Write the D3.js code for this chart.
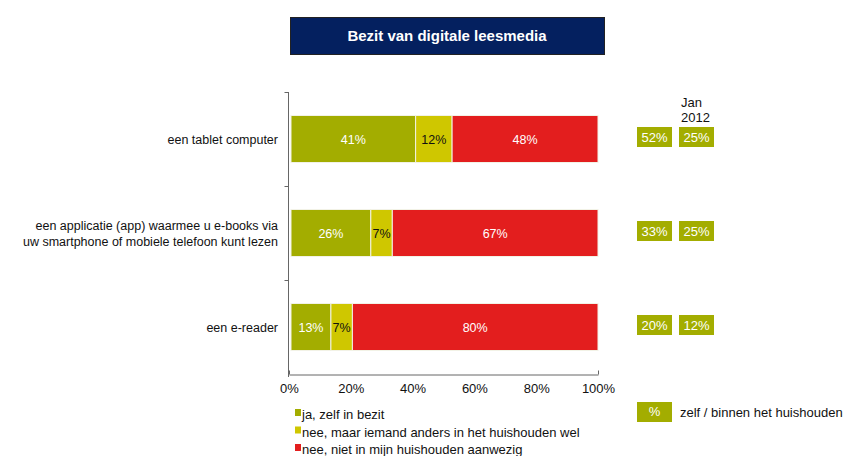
<!DOCTYPE html>
<html><head><meta charset="utf-8">
<script src="https://cdn.jsdelivr.net/npm/d3@7"></script>
<style>body{margin:0;background:#fff}svg{display:block;font-family:"Liberation Sans",Arial,sans-serif}</style>
</head><body><svg id="c" width="845" height="456"></svg>
<script>
const title = "Bezit van digitale leesmedia";
const categories = ["een tablet computer", "een applicatie (app) waarmee  u e-books via\nuw smartphone of mobiele telefoon kunt lezen", "een e-reader"];
const seriesNames = ["ja, zelf in bezit", "nee, maar iemand anders in het huishouden wel", "nee, niet in mijn huishouden aanwezig"];
const jaZelf = [41, 26, 13];
const neeAnders = [12, 7, 7];
const neeNiet = [48, 67, 80];
const sideNow = [52, 33, 20];
const sideJan2012 = [25, 25, 12];
const xTicks = [0, 20, 40, 60, 80, 100];
const colors = ["#a3ad00", "#cfc700", "#e31e1e"];
const textColors = ["#fff", "#111", "#fff"];

const svg = d3.select("#c");
const W = 845, H = 456;
const m = {left: 291, right: 598, top: 92, bottom: 374};

// title box
svg.append("rect").attr("x", 290.5).attr("y", 17.5).attr("width", 314).attr("height", 37)
  .attr("fill", "#04205f").attr("stroke", "#222").attr("stroke-width", 1);
svg.append("text").attr("x", 447).attr("y", 41).attr("text-anchor", "middle")
  .attr("fill", "#fff").attr("font-weight", "bold").attr("font-size", 15).text(title);

const rows = categories.map((c, i) => ({cat: c, s0: jaZelf[i], s1: neeAnders[i], s2: neeNiet[i]}));
const stack = d3.stack().keys(["s0", "s1", "s2"]).offset(d3.stackOffsetExpand);
const layers = stack(rows);

const x = d3.scaleLinear().domain([0, 1]).range([m.left, m.right]);
const y = d3.scaleBand().domain(categories).range([m.top, m.bottom]).paddingInner(0.5).paddingOuter(0.25);

// bars
layers.forEach((layer, k) => {
  const g = svg.append("g");
  g.selectAll("rect").data(layer).join("rect")
    .attr("x", d => x(d[0])).attr("y", d => y(d.data.cat))
    .attr("width", d => x(d[1]) - x(d[0])).attr("height", y.bandwidth())
    .attr("fill", colors[k]).attr("stroke", "#f2f2e6").attr("stroke-width", 1);
  g.selectAll("text").data(layer).join("text")
    .attr("x", d => (x(d[0]) + x(d[1])) / 2).attr("y", d => y(d.data.cat) + y.bandwidth() / 2 + 4.5)
    .attr("text-anchor", "middle").attr("font-size", 12.5).attr("fill", textColors[k])
    .text(d => d.data[layer.key] + "%");
});

// y axis
const yAxisG = svg.append("g").attr("transform", `translate(${m.left - 2.5},0)`);
yAxisG.append("line").attr("y1", m.top).attr("y2", m.bottom + 3).attr("stroke", "#666");
const bandEdges = [m.top, ...categories.map(c => y(c) + y.bandwidth() + y.step() * y.paddingInner() / 2)];
bandEdges.slice(0, 3).forEach(v => {
  yAxisG.append("line").attr("x1", -4).attr("x2", 0).attr("y1", Math.round(v) + 0.5).attr("y2", Math.round(v) + 0.5).attr("stroke", "#666");
});
// category labels
categories.forEach(c => {
  const lines = c.split("\n");
  const cy = y(c) + y.bandwidth() / 2;
  const t = svg.append("text").attr("text-anchor", "end").attr("font-size", 12.5).attr("fill", "#111");
  lines.forEach((l, i) => {
    t.append("tspan").attr("x", 278).attr("y", cy + 4.5 + (i - (lines.length - 1) / 2) * 16).text(l);
  });
});

// x axis
const xs = d3.scaleLinear().domain([0, 100]).range([m.left - 2, m.right]);
const xAxis = d3.axisBottom(xs).tickValues(xTicks).tickFormat(d => d + "%").tickSize(4).tickSizeOuter(0);
const xg = svg.append("g").attr("transform", `translate(0,${m.bottom + 0.5})`).call(xAxis);
xg.select(".domain").attr("stroke", "#666");
xg.selectAll(".tick line").attr("stroke", "#666").attr("y2", -4).attr("y1", 0);
xg.selectAll(".tick text").attr("font-size", 13).attr("fill", "#111").attr("font-family", "Liberation Sans, Arial, sans-serif").attr("dy", "0.9em");
xg.selectAll(".tick line").filter((d, i) => i > 0 && i < xTicks.length - 1).remove();

// legend left
const lg = svg.append("g");
seriesNames.forEach((n, i) => {
  const ly = 415 + i * 17.5;
  lg.append("rect").attr("x", 295).attr("y", ly - 6).attr("width", 6).attr("height", 7).attr("fill", colors[i]);
  lg.append("text").attr("x", 302).attr("y", ly + 4).attr("font-size", 13).attr("fill", "#111").text(n);
});

// side boxes
const sideCols = [{vals: sideNow, x: 637}, {vals: sideJan2012, x: 679}];
sideCols.forEach(col => {
  const g = svg.append("g");
  g.selectAll("rect").data(col.vals).join("rect")
    .attr("x", col.x).attr("y", (d, i) => y(categories[i]) + y.bandwidth() / 2 - 12)
    .attr("width", 35).attr("height", 20).attr("fill", colors[0]);
  g.selectAll("text").data(col.vals).join("text")
    .attr("x", col.x + 17.5).attr("y", (d, i) => y(categories[i]) + y.bandwidth() / 2 + 3)
    .attr("text-anchor", "middle").attr("font-size", 13).attr("fill", "#fff").text(d => d + "%");
});
svg.append("text").attr("x", 681).attr("y", 107).attr("font-size", 13).attr("fill", "#111").text("Jan");
svg.append("text").attr("x", 681).attr("y", 122).attr("font-size", 13).attr("fill", "#111").text("2012");

// right legend
svg.append("rect").attr("x", 637).attr("y", 402).attr("width", 35).attr("height", 20).attr("fill", colors[0]);
svg.append("text").attr("x", 654.5).attr("y", 416).attr("text-anchor", "middle").attr("font-size", 13).attr("fill", "#fff").text("%");
svg.append("text").attr("x", 680).attr("y", 417).attr("font-size", 13).attr("fill", "#111").text("zelf / binnen het huishouden");
</script></body></html>
